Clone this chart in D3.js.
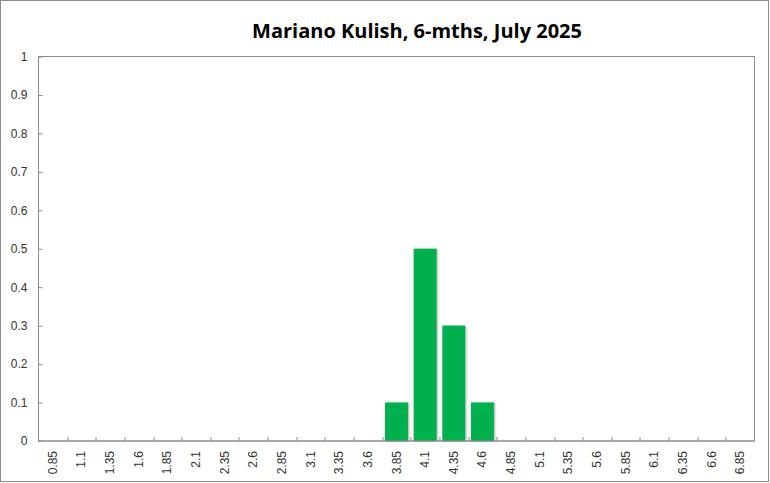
<!DOCTYPE html>
<html>
<head>
<meta charset="utf-8">
<script src="https://cdn.jsdelivr.net/npm/d3@7"></script>
<style>
  body { margin: 0; background: #fff; }
  text { font-family: "Liberation Sans", Arial, sans-serif; }
</style>
</head>
<body>
<svg id="chart" width="770" height="483"></svg>
<script>
// data
var categories = ["0.85", "1.1", "1.35", "1.6", "1.85", "2.1", "2.35", "2.6", "2.85", "3.1", "3.35", "3.6",
  "3.85", "4.1", "4.35", "4.6", "4.85", "5.1", "5.35", "5.6", "5.85", "6.1", "6.35", "6.6", "6.85"];
var values = [0, 0, 0, 0, 0, 0, 0, 0, 0, 0, 0, 0,
  0.1, 0.5, 0.3, 0.1, 0, 0, 0, 0, 0, 0, 0, 0, 0];
var yTicks = [0, 0.1, 0.2, 0.3, 0.4, 0.5, 0.6, 0.7, 0.8, 0.9, 1];
var title = "Mariano Kulish, 6-mths, July 2025";

var svg = d3.select("#chart");
var width = +svg.attr("width");
var height = +svg.attr("height");
var margin = { top: 56.5, right: 15.5, bottom: 42, left: 38.5 };
var innerW = width - margin.left - margin.right;
var innerH = height - margin.top - margin.bottom;

// outer border
svg.append("rect")
  .attr("x", 0.5).attr("y", 0.5)
  .attr("width", width - 2).attr("height", height - 2)
  .attr("fill", "#fff").attr("stroke", "#8c8c8c");

svg.append("defs").append("filter").attr("id", "shadow")
  .attr("x", "-20%").attr("y", "-20%").attr("width", "150%").attr("height", "150%")
  .append("feDropShadow")
  .attr("dx", 1).attr("dy", 0).attr("stdDeviation", 0.8)
  .attr("flood-color", "#000").attr("flood-opacity", 0.35);

var g = svg.append("g").attr("transform", "translate(" + margin.left + "," + margin.top + ")");

var x = d3.scaleBand().domain(categories).range([0, innerW]).paddingInner(0.2).paddingOuter(0.1);
var y = d3.scaleLinear().domain([0, 1]).range([innerH, 0]);

// plot frame
g.append("rect")
  .attr("width", innerW).attr("height", innerH)
  .attr("fill", "none").attr("stroke", "#8c8c8c");

// bars
g.selectAll(".bar")
  .data(values)
  .enter()
  .append("rect")
  .attr("class", "bar")
  .attr("x", function (d, i) { return x(categories[i]); })
  .attr("y", function (d) { return y(d); })
  .attr("width", x.bandwidth())
  .attr("height", function (d) { return innerH - y(d); })
  .attr("fill", "#00b050")
  .attr("filter", "url(#shadow)")
  .style("display", function (d) { return d > 0 ? null : "none"; });

// y axis
var yAxis = d3.axisLeft(y).tickValues(yTicks).tickSize(-4).tickPadding(11)
  .tickFormat(function (d) { return d3.format("")(+d.toFixed(1)); });
var ya = g.append("g").call(yAxis);
ya.select(".domain").remove();
ya.selectAll("line").attr("stroke", "#8c8c8c");
ya.selectAll("text").attr("fill", "#333").style("font-size", "12px");

// x axis: ticks between categories
var step = x.step();
var bounds = d3.range(1, categories.length).map(function (i) {
  return x(categories[i]) - step * x.paddingInner() / 2;
});
g.append("g")
  .selectAll("line")
  .data(bounds)
  .enter()
  .append("line")
  .attr("x1", function (d) { return Math.round(d) + 0.5; })
  .attr("x2", function (d) { return Math.round(d) + 0.5; })
  .attr("y1", innerH).attr("y2", innerH - 4)
  .attr("stroke", "#8c8c8c");

g.append("line")
  .attr("x1", 0).attr("x2", innerW)
  .attr("y1", innerH).attr("y2", innerH)
  .attr("stroke", "#8c8c8c");

g.append("g")
  .selectAll("text")
  .data(categories)
  .enter()
  .append("text")
  .attr("transform", function (d) {
    return "translate(" + (x(d) + x.bandwidth() / 2 + 4) + "," + (innerH + 10) + ") rotate(-90)";
  })
  .attr("text-anchor", "end")
  .attr("fill", "#333")
  .style("font-size", "12px")
  .text(function (d) { return d; });

// title
svg.append("text")
  .attr("x", 417).attr("y", 38)
  .attr("text-anchor", "middle")
  .attr("fill", "#000")
  .style("font-size", "20px")
  .style("font-weight", "bold")
  .style("font-family", "'Open Sans', sans-serif")
  .text(title);
</script>
</body>
</html>
